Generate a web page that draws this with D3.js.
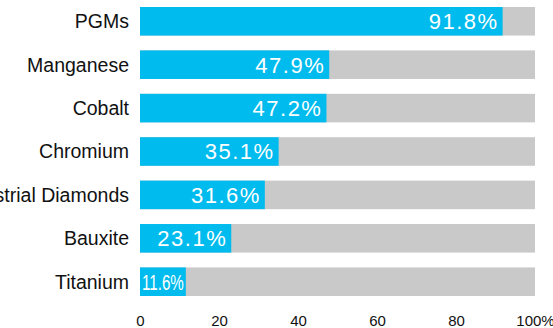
<!DOCTYPE html>
<html>
<head>
<meta charset="utf-8">
<script src="https://cdn.jsdelivr.net/npm/d3@7"></script>
<style>
  html, body { margin: 0; padding: 0; background: #fff; }
  svg { display: block; }
  text { font-family: "Liberation Sans", Arial, Helvetica, sans-serif; }
</style>
</head>
<body>
<svg id="chart" width="553" height="328"></svg>
<script>
const categories = ["PGMs", "Manganese", "Cobalt", "Chromium", "Industrial Diamonds", "Bauxite", "Titanium"];
const values = [91.8, 47.9, 47.2, 35.1, 31.6, 23.1, 11.6];
const tickValues = [0, 20, 40, 60, 80, 100];
const tickLabels = ["0", "20", "40", "60", "80", "100%"];
const maxValue = 100;

const svg = d3.select("#chart");
const blue = "#00bbee";
const grey = "#c8c9c8";

const x = d3.scaleLinear().domain([0, maxValue]).range([140, 535]);
const y = d3.scaleBand().domain(categories).range([7, 296]).paddingInner(0.342).paddingOuter(0);

const rows = svg.append("g").selectAll("g")
  .data(categories.map((c, i) => ({ c, v: values[i] })))
  .join("g");

rows.append("rect")
  .attr("x", x(0))
  .attr("y", d => y(d.c))
  .attr("width", x(maxValue) - x(0))
  .attr("height", y.bandwidth())
  .attr("fill", grey);

rows.append("rect")
  .attr("x", x(0))
  .attr("y", d => y(d.c))
  .attr("width", d => x(d.v) - x(0))
  .attr("height", y.bandwidth())
  .attr("fill", blue);

rows.append("text")
  .attr("x", x(0) - 11)
  .attr("y", d => y(d.c) + y.bandwidth() / 2)
  .attr("dy", "0.35em")
  .attr("text-anchor", "end")
  .attr("font-size", 19.5)
  .attr("fill", "#111")
  .text(d => d.c);

rows.each(function(d) {
  const g = d3.select(this);
  const t = g.append("text")
    .attr("y", y(d.c) + y.bandwidth() / 2)
    .attr("dy", "0.36em")
    .attr("font-size", 22)
    .attr("fill", "#fff")
    .style("letter-spacing", "1.5px")
    .text(d.v.toFixed(1) + "%");
  const w = t.node().getComputedTextLength();
  const barW = x(d.v) - x(0);
  if (w + 8 > barW) {
    t.style("letter-spacing", "0px")
      .attr("x", x(0) + 2)
      .attr("text-anchor", "start")
      .attr("textLength", barW - 4)
      .attr("lengthAdjust", "spacingAndGlyphs");
  } else {
    t.attr("x", x(d.v) - 4).attr("text-anchor", "end");
  }
});

const axis = d3.axisBottom(x)
  .tickValues(tickValues)
  .tickFormat((d, i) => tickLabels[i])
  .tickSize(0)
  .tickPadding(0);

const ax = svg.append("g").attr("transform", "translate(0,314)").call(axis);
ax.select(".domain").remove();
ax.selectAll("text")
  .attr("font-size", 15)
  .attr("fill", "#111")
  .attr("dy", "0.78em")
  .style("font-family", "'Liberation Sans', Arial, Helvetica, sans-serif");
</script>
</body>
</html>
